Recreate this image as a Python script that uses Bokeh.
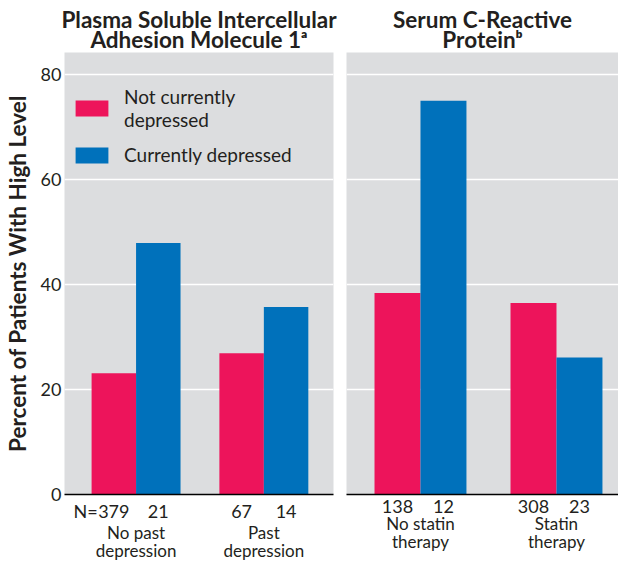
from bokeh.plotting import figure
from bokeh.layouts import row
from bokeh.models import (ColumnDataSource, FixedTicker, LinearAxis, Range1d,
                          Legend, LegendItem, Title)
from bokeh.embed import file_html
from bokeh.resources import INLINE

# ---- data ----
series_labels = ["Not currently\ndepressed", "Currently depressed"]
left_groups_l1 = ["No past", "Past"]
left_groups_l2 = ["depression", "depression"]
left_not = [23.1, 26.9]
left_cur = [47.9, 35.7]
left_n_not = ["379", "67"]
left_n_cur = ["21", "14"]
right_groups_l1 = ["No statin", "Statin"]
right_groups_l2 = ["therapy", "therapy"]
right_not = [38.4, 36.5]
right_cur = [75.0, 26.1]
right_n_not = ["138", "308"]
right_n_cur = ["12", "23"]
titles = [["Plasma Soluble Intercellular", "Adhesion Molecule 1\u1d43"],
          ["Serum C-Reactive", "Protein\u1d47"]]
y_ticks = [0, 20, 40, 60, 80]
y_label = "Percent of Patients With High Level"

PINK = "#ED145B"
BLUE = "#0071BB"
GRAY = "#DCDDDF"
FONT = "Lato"
TXT = "#231F20"


def style_bottom_axis(ax, size, standoff):
    ax.major_tick_line_color = None
    ax.minor_tick_line_color = None
    ax.major_tick_out = 0
    ax.major_tick_in = 0
    ax.minor_tick_out = 0
    ax.minor_tick_in = 0
    ax.axis_label_standoff = 0
    ax.major_label_text_font = FONT
    ax.major_label_text_font_size = size
    ax.major_label_text_color = TXT
    ax.major_label_standoff = standoff


def panel(title, g1, g2, v_not, v_cur, n_not, n_cur, xr, bw, width,
          mbl, mbr, first):
    p = figure(width=width, height=563, output_backend="svg",
               toolbar_location=None, x_range=Range1d(*xr),
               y_range=Range1d(0, 84.2), min_border_left=mbl,
               min_border_right=mbr, min_border_top=0, min_border_bottom=0)
    p.background_fill_color = GRAY
    p.border_fill_color = "white"
    p.outline_line_color = None
    pos = [i + 1 for i in range(len(g1))]
    src = ColumnDataSource(dict(
        xn=[x - bw / 2 for x in pos], xc=[x + bw / 2 for x in pos],
        vn=v_not, vc=v_cur))
    r1 = p.vbar(x="xn", top="vn", width=bw, source=src, fill_color=PINK,
                line_color=None)
    r2 = p.vbar(x="xc", top="vc", width=bw, source=src, fill_color=BLUE,
                line_color=None)
    p.xgrid.grid_line_color = None
    p.ygrid.grid_line_color = "white"
    p.ygrid.grid_line_width = 1.5
    p.ygrid.ticker = FixedTicker(ticks=y_ticks)

    # count axis
    ax = p.xaxis[0]
    ticks = []
    over = {}
    for i, x in enumerate(pos):
        ticks += [x - bw / 2, x + bw / 2]
        over[x - bw / 2] = n_not[i]
        over[x + bw / 2] = n_cur[i]
    if first:
        nx = pos[0] - bw / 2 - 0.22
        ticks.append(nx)
        over[nx] = "N="
    ax.ticker = FixedTicker(ticks=ticks)
    ax.major_label_overrides = over
    style_bottom_axis(ax, "18px", 5)
    ax.axis_line_color = "black"
    ax.axis_line_width = 1.5

    for labels, so in ((g1, -3), (g2, -6)):
        gax = LinearAxis(ticker=FixedTicker(ticks=pos),
                         major_label_overrides={x: g for x, g in zip(pos, labels)})
        style_bottom_axis(gax, "17px", so)
        gax.axis_line_color = None
        p.add_layout(gax, "below")

    ya = p.yaxis[0]
    if first:
        ya.ticker = FixedTicker(ticks=y_ticks)
        ya.axis_line_color = None
        ya.major_tick_line_color = None
        ya.minor_tick_line_color = None
        ya.major_tick_out = 0
        ya.minor_tick_out = 0
        ya.major_label_text_font = FONT
        ya.major_label_text_font_size = "18px"
        ya.major_label_text_color = TXT
        ya.major_label_standoff = 3
        ya.axis_label = y_label
        ya.axis_label_text_font = FONT
        ya.axis_label_text_font_size = "22.5px"
        ya.axis_label_text_font_style = "bold"
        ya.axis_label_text_color = TXT
        ya.axis_label_standoff = 7
        leg = Legend(items=[LegendItem(label=series_labels[0], renderers=[r1]),
                            LegendItem(label=series_labels[1], renderers=[r2])],
                     location=(7, 328), orientation="vertical")
        leg.background_fill_color = GRAY
        leg.background_fill_alpha = 1.0
        leg.border_line_color = None
        leg.glyph_width = 41
        leg.glyph_height = 20
        leg.label_text_font = FONT
        leg.label_text_font_size = "19px"
        leg.label_text_color = TXT
        leg.label_standoff = 12
        leg.spacing = 12
        leg.padding = 0
        leg.margin = 0
        p.add_layout(leg, "center")
    else:
        ya.visible = False

    # spacer between the titles and the plot frame (first added = closest)
    p.add_layout(Title(text=" ", text_font_size="2px", standoff=7.5), "above")
    for line, so in zip(reversed(title), (-24.5, 5.5)):
        t = Title(text=line, align="center", text_font=FONT,
                  text_font_size="22.5px", text_font_style="bold",
                  text_color=TXT, standoff=so, offset=0)
        p.add_layout(t, "above")
    return p


p1 = panel(titles[0], left_groups_l1, left_groups_l2, left_not, left_cur,
           left_n_not, left_n_cur, (0.44, 2.545), 0.348, 339, 55, 6, True)
p2 = panel(titles[1], right_groups_l1, right_groups_l2, right_not, right_cur,
           right_n_not, right_n_cur, (0.456, 2.456), 0.338, 279, 7, 0, False)

layout = row(p1, p2)
open("out.html", "w").write(file_html(layout, INLINE))
